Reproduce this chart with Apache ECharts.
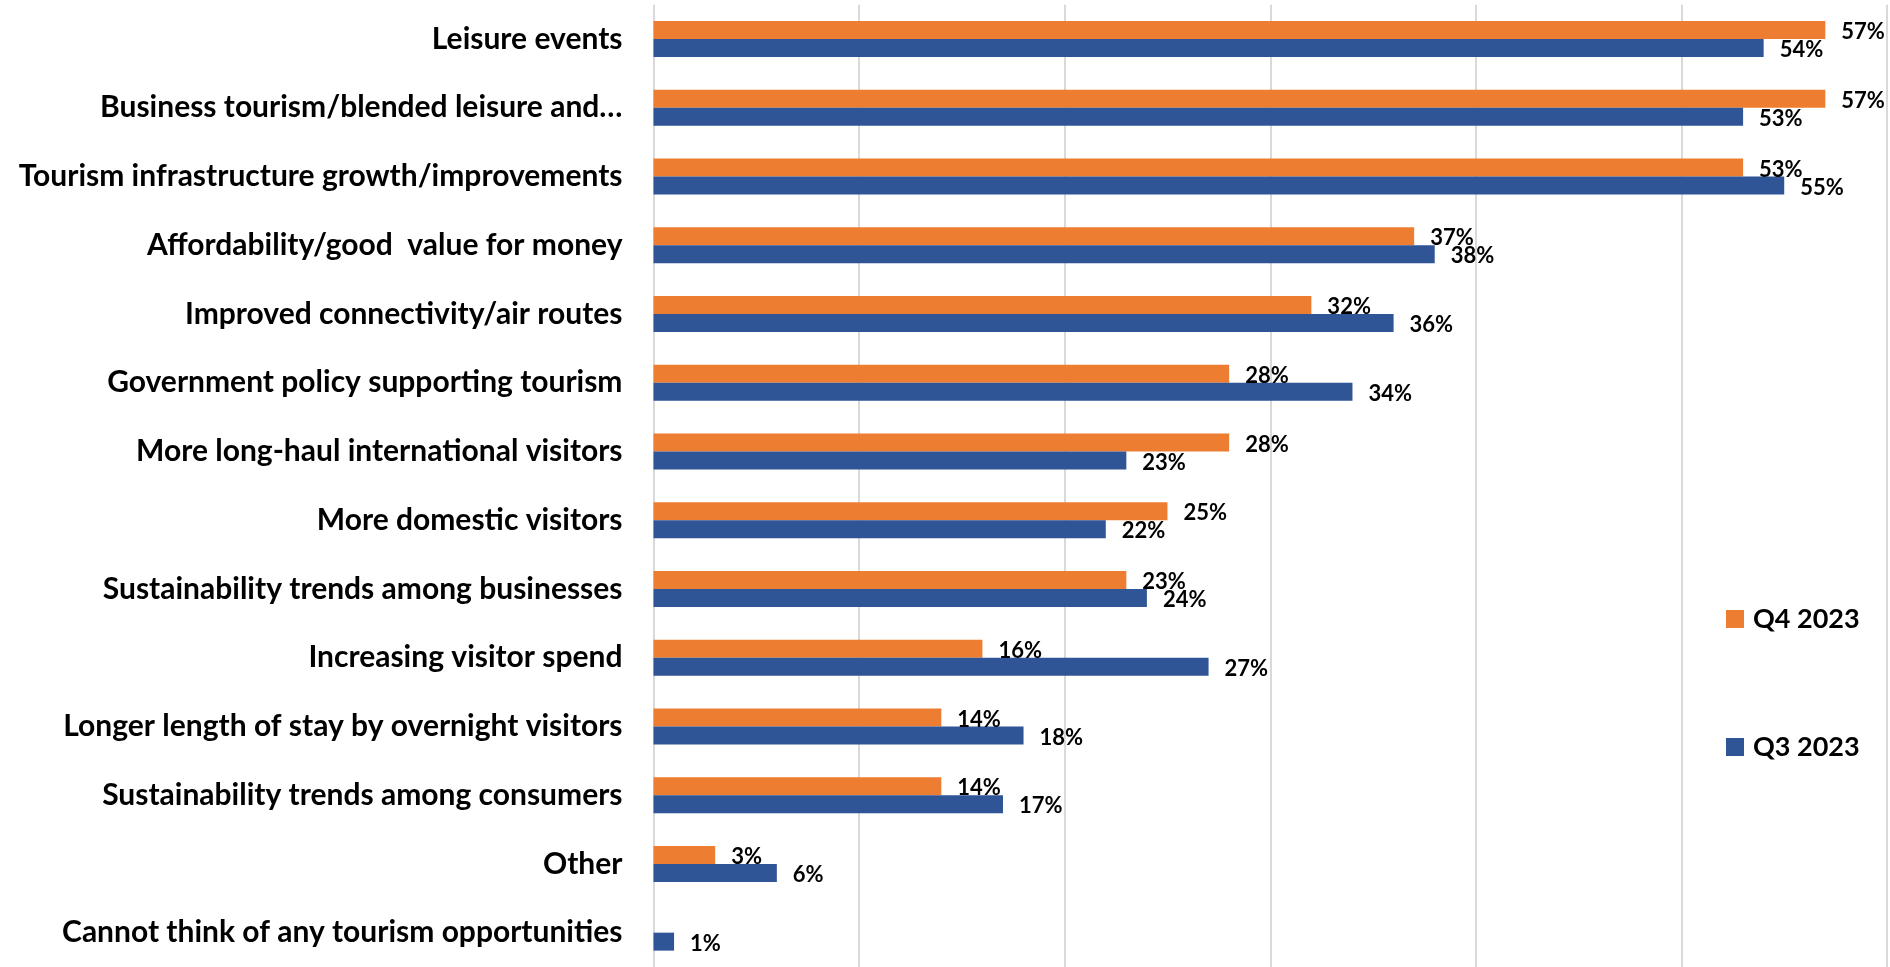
<!DOCTYPE html>
<html>
<head>
<meta charset="utf-8">
<script src="https://cdn.jsdelivr.net/npm/echarts@6/dist/echarts.min.js"></script>
<style>
  html, body { margin: 0; padding: 0; background: #ffffff; }
  #chart { width: 1890px; height: 967px; }
</style>
</head>
<body>
<div id="chart"></div>
<script>
// Tourism opportunities, share of respondents (%)
const categories = [
  'Leisure events',
  'Business tourism/blended leisure and…',
  'Tourism infrastructure growth/improvements',
  'Affordability/good  value for money',
  'Improved connectivity/air routes',
  'Government policy supporting tourism',
  'More long-haul international visitors',
  'More domestic visitors',
  'Sustainability trends among businesses',
  'Increasing visitor spend',
  'Longer length of stay by overnight visitors',
  'Sustainability trends among consumers',
  'Other',
  'Cannot think of any tourism opportunities'
];
const q4_2023 = [57, 57, 53, 37, 32, 28, 28, 25, 23, 16, 14, 14, 3, null];
const q3_2023 = [54, 53, 55, 38, 36, 34, 23, 22, 24, 27, 18, 17, 6, 1];
const seriesNames = ['Q4 2023', 'Q3 2023'];
const xTicks = { min: 0, max: 60, interval: 10 };

const FONT = 'Lato';
const ORANGE = '#ED7D31';
const BLUE = '#2F5597';
const GRID = '#d9d9d9';

const valueLabel = {
  show: true,
  position: 'right',
  distance: 16,
  offset: [0, 2],
  color: '#000',
  fontFamily: FONT,
  fontWeight: 'bold',
  fontSize: 22,
  formatter: p => (p.value == null ? '' : p.value + '%')
};

const chart = echarts.init(document.getElementById('chart'), null, { renderer: 'canvas' });
chart.setOption({
  animation: false,
  backgroundColor: '#ffffff',
  grid: { left: 653.5, right: 3, top: 4.7, height: 966.5, containLabel: false },
  legend: {
    orient: 'vertical',
    left: 1721,
    top: 599,
    itemWidth: 18,
    itemHeight: 18,
    itemGap: 98,
    icon: 'rect',
    data: seriesNames,
    textStyle: {
      fontFamily: FONT,
      fontWeight: 'bold',
      fontSize: 27,
      lineHeight: 30,
      color: '#000',
      padding: [0, 0, 0, 4]
    }
  },
  xAxis: {
    type: 'value',
    min: xTicks.min,
    max: xTicks.max,
    interval: xTicks.interval,
    axisLabel: { show: false },
    axisLine: { show: false },
    axisTick: { show: false },
    splitLine: { show: true, lineStyle: { color: GRID, width: 2 } }
  },
  yAxis: {
    type: 'category',
    inverse: true,
    data: categories,
    axisLine: { show: false },
    axisTick: { show: false },
    axisLabel: {
      margin: 31,
      color: '#000',
      fontFamily: FONT,
      fontWeight: 'bold',
      fontSize: 30
    }
  },
  series: [
    {
      name: seriesNames[0],
      type: 'bar',
      data: q4_2023,
      barWidth: 18,
      barGap: '0%',
      itemStyle: { color: ORANGE },
      label: valueLabel
    },
    {
      name: seriesNames[1],
      type: 'bar',
      data: q3_2023,
      barWidth: 18,
      barGap: '0%',
      itemStyle: { color: BLUE },
      label: valueLabel
    }
  ]
});
</script>
</body>
</html>
